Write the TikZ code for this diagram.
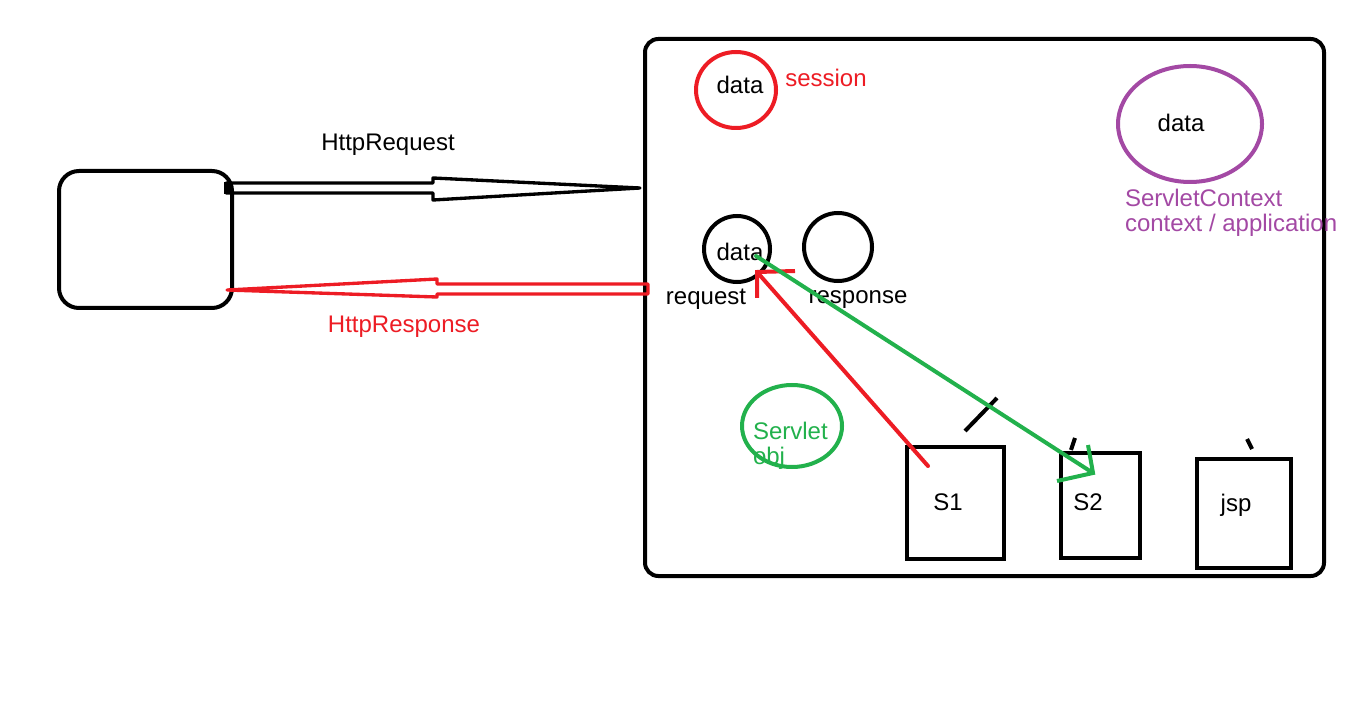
\documentclass[tikz,border=0pt]{standalone}
\usepackage{fontspec}
\setmainfont{Liberation Sans}
\definecolor{pred}{RGB}{237,28,36}
\definecolor{pgreen}{RGB}{34,177,76}
\definecolor{ppurple}{RGB}{163,73,164}
\tikzset{every picture/.style={line width=3pt}}
\tikzset{lbl/.style={inner sep=0pt,font=\fontsize{18}{20}\selectfont}}

\begin{document}
\begin{tikzpicture}[x=0.75pt,y=0.75pt,yscale=-1,xscale=1]
    \useasboundingbox (0,0) rectangle (1355,716);
    % client and server
    \draw [rounded corners=15pt]  (59,171) rectangle (232,308) ;
    \draw [rounded corners=10pt]  (645,39) rectangle (1324,576) ;

    % request arrow
    \draw [line width=2.5pt,line join=round]  (226,183) -- (433,183) -- (433,178) -- (640,188) -- (433,200) -- (433,193) -- (226,193) -- cycle ;
    \fill  (224,182) rectangle (230,194) ;
    % response arrow
    \draw [pred,line width=2.5pt,line join=round]  (648,284) -- (437,284) -- (437,279) -- (227,290) -- (437,297) -- (437,294) -- (648,294) -- cycle ;

    \draw (388,145) node [lbl] (req) {HttpRequest};
    \draw (404,327) node [lbl,color=pred] (resp) {HttpResponse};

    % session
    \draw [pred]  (736,90) ellipse (40 and 38) ;
    \draw (740,85) node [lbl] (sdata) {data};
    \draw (826,78) node [lbl,color=pred] (sess) {session};

    % context
    \draw [ppurple]  (1190,124) ellipse (72 and 58) ;
    \draw (1181,123) node [lbl] (cdata) {data};
    \draw (1123,198) node [lbl,color=ppurple,anchor=west,align=left] (ctx) {ServletContext};
    \draw (1123,225) node [lbl,color=ppurple,anchor=west] (app) {context / application};

    % request / response objects
    \draw  (737,249) circle (33) ;
    \draw  (838,247) circle (34) ;
    \draw (740,252) node [lbl] (rdata) {data};
    \draw (706,299) node [lbl] (rq) {request};
    \draw (858,300) node [lbl] (rs) {response};

    % servlet obj
    \draw [pgreen]  (792,426) ellipse (50 and 41) ;
    \draw (751,431) node [lbl,color=pgreen,anchor=west] (sv) {Servlet};
    \draw (751,458) node [lbl,color=pgreen,anchor=west] (ob) {obj};

    % servlets
    \draw  (907,447) rectangle (1004,559) ;
    \draw  (1061,453) rectangle (1140,558) ;
    \draw  (1197,459) rectangle (1291,568) ;
    \draw (948,502) node [lbl] (s1) {S1};
    \draw (1088,502) node [lbl] (s2) {S2};
    \draw (1236,505) node [lbl] (jsp) {jsp};

    % small marks
    \draw  (965,431) -- (997,398) ;
    \draw  (1071,450) -- (1075,438) ;
    \draw  (1247,439) -- (1252,449) ;

    % forward / include
    \coordinate (a1) at (928,466);
    \coordinate (a2) at (757,272);
    \draw [pred,line cap=round]  (a1) -- (a2) ;
    \draw [pred]  (757,298) -- (a2) -- (795,271) ;
    \coordinate (b1) at (756,256);
    \coordinate (b2) at (1093,473);
    \draw [pgreen,line cap=round]  (b1) -- (b2) ;
    \draw [pgreen]  (1057,481) -- (b2) -- (1088,445) ;

    \end{tikzpicture}
\end{document}
